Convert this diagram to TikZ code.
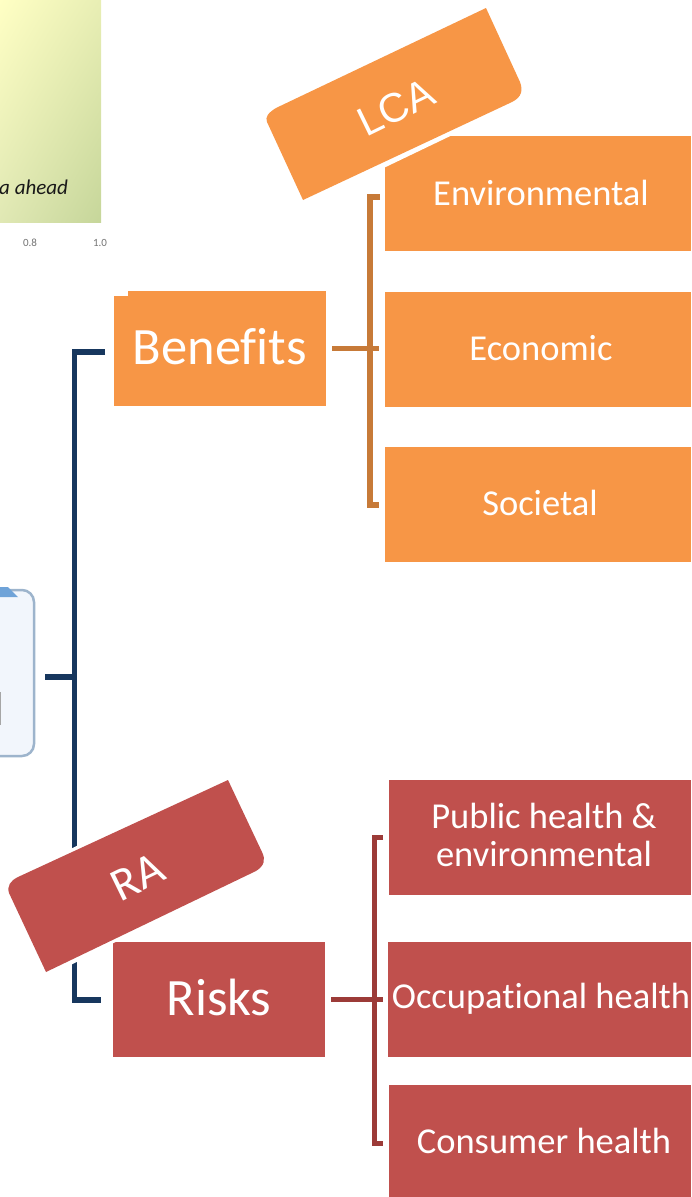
\documentclass[tikz,border=0pt]{standalone}
\usepackage{fontspec}
\setmainfont{Carlito}[Ligatures=NoCommon]
\newfontfamily\arialf{Liberation Sans}
\definecolor{orangebox}{HTML}{F79646}
\definecolor{redbox}{HTML}{C0504D}
\definecolor{navyline}{HTML}{17375E}
\definecolor{orangeline}{HTML}{C77A38}
\definecolor{redline}{HTML}{9C3B38}
\definecolor{panelUL}{HTML}{FFFFC4}
\definecolor{panelUR}{HTML}{E8EEB4}
\definecolor{panelLL}{HTML}{E0E8B4}
\definecolor{panelLR}{HTML}{C6D69A}
\definecolor{softfill}{HTML}{F2F6FC}
\definecolor{softline}{HTML}{9DB4CC}
\definecolor{softtop}{HTML}{6FA3D8}
\usetikzlibrary{calc,shadings}
\tikzset{
  orbox/.style={fill=orangebox,text=white,inner sep=0pt,anchor=north west},
  rdbox/.style={fill=redbox,text=white,inner sep=0pt,anchor=north west},
  smalltxt/.style={font=\fontsize{36.5}{38}\selectfont,align=center},
  bigtxt/.style={font=\fontsize{52.5}{55}\selectfont},
  navy/.style={draw=navyline,line width=5.5pt},
  orbr/.style={draw=orangeline,line width=5.5pt},
  rdbr/.style={draw=redline,line width=5pt},
  pt/.style={inner sep=0pt,outer sep=0pt}
}
\begin{document}
\begin{tikzpicture}[x=1pt,y=-1pt]
\useasboundingbox (0,0) rectangle (691,1197);
% panel at top left
\path[shading=bilinear interpolation,upper left=panelUL,upper right=panelUR,
  lower left=panelLL,lower right=panelLR] (0,0) rectangle (101,222);
\node[pt,anchor=base east,font=\fontsize{21}{23}\selectfont\itshape,text=black!90] (ahead) at (68,194) {a ahead};
\node[pt,font=\fontsize{11}{12}\selectfont,text=black!55] (t8) at (30,243) {0.8};
\node[pt,font=\fontsize{11}{12}\selectfont,text=black!55] (t10) at (100,243) {1.0};
% rounded box at left
\path[fill=softfill,draw=softline,line width=2.5pt,rounded corners=12pt]
  (-20,590) -- (34,590) -- (34,756) -- (-20,756) -- cycle;
\path[fill=softtop] (-5,587) -- (8,587) -- (18,597) -- (-5,597) -- cycle;
\path[fill=black!35] (-2,692) rectangle (0.5,725);
% boxes
\path[fill=orangebox] (128,291) rectangle (326,310);
\node[orbox,minimum width=212pt,minimum height=110pt] (benefits) at (114,296) {};
\node[pt,bigtxt,text=white] (benefitsT) at (220,347) {Benefits};
\node[rdbox,minimum width=212pt,minimum height=115pt] (risks) at (113,942) {};
\node[pt,bigtxt,text=white] (risksT) at (219,997) {Risks};
\node[orbox,minimum width=306pt,minimum height=115pt] (env) at (385,136) {};
\node[pt,smalltxt,text=white] (envT) at (541,193) {Environmental};
\node[orbox,minimum width=306pt,minimum height=115pt] (eco) at (385,292) {};
\node[pt,smalltxt,text=white] (ecoT) at (541,348) {Economic};
\node[orbox,minimum width=306pt,minimum height=115pt] (soc) at (385,447) {};
\node[pt,smalltxt,text=white] (socT) at (540,503) {Societal};
\node[rdbox,minimum width=302pt,minimum height=115pt] (pub) at (389,780) {};
\node[pt,smalltxt,text=white] (pubT) at (544,835) {Public health \&\\environmental};
\node[rdbox,minimum width=303pt,minimum height=115pt] (occ) at (388,942) {};
\node[pt,smalltxt,text=white] (occT) at (541,999) {Occupational health};
\node[rdbox,minimum width=302pt,minimum height=112pt] (con) at (389,1085) {};
\node[pt,smalltxt,text=white] (conT) at (544,1141) {Consumer health};
% connectors
\coordinate (navyT) at (74.5,352);
\coordinate (navyB) at (74.5,1000);
\coordinate (navyM) at (74.5,677);
\coordinate (navyL) at (45,677);
\coordinate (navyTe) at (105,352);
\coordinate (navyBe) at (101,1000);
\draw[navy] (navyTe) -- (navyT) -- (navyB) -- (navyBe);
\draw[navy] (navyL) -- (navyM);
\coordinate (oT) at (370,197);
\coordinate (oB) at (370,505);
\draw[orbr] (380,197) -- (oT) -- (oB) -- (379,505);
\draw[orbr] (332,348.5) -- (379,348.5);
\coordinate (rT) at (374,837);
\coordinate (rB) at (374,1143);
\draw[rdbr] (383,837) -- (rT) -- (rB) -- (383,1143);
\draw[rdbr] (331,999.5) -- (383,999.5);
% tilted labels
\path[fill=white,draw=white,line width=12pt,line join=round]
  (266,115) -- (486,8) -- (522,95) -- (303,200) -- cycle;
\path[fill=orangebox]
  (486,8) -- (520,82) .. controls (523,90) and (522,97) .. (512,102) -- (303,200) -- (267,122) .. controls (265,117) and (268,113) .. (276,108) -- cycle;
\node[pt,rotate=26,text=white,font=\arialf\fontsize{41}{44}\selectfont] (lca) at (396,107) {LCA};
\path[fill=white,draw=white,line width=10pt,line join=round]
  (8,884) -- (228,780) -- (265,860) -- (46,972) -- cycle;
\path[fill=redbox]
  (228,780) -- (262,852) .. controls (266,860) and (264,866) .. (256,871) -- (46,972) -- (9,893) .. controls (7,886) and (10,881) .. (18,877) -- cycle;
\node[pt,rotate=26,text=white,font=\fontsize{47}{50}\selectfont] (ra) at (138,877) {RA};
\end{tikzpicture}
\end{document}
